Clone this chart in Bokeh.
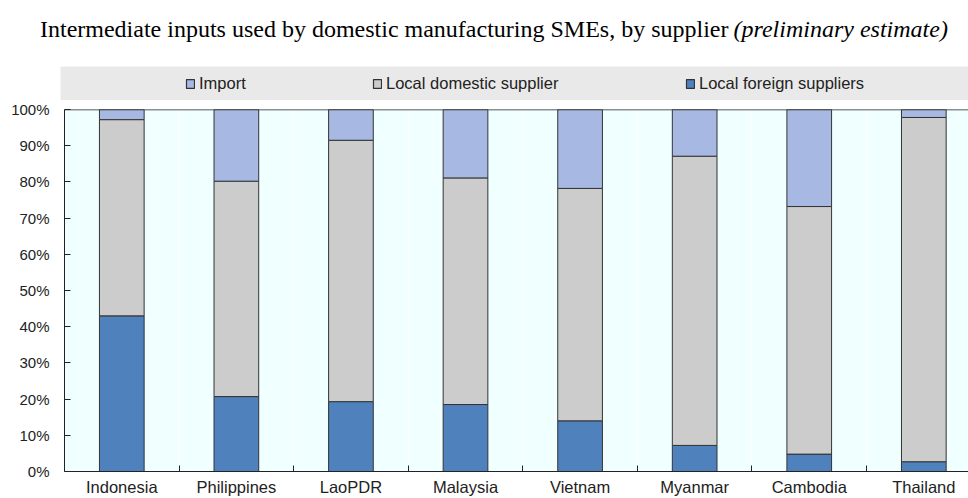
from bokeh.plotting import figure
from bokeh.layouts import column
from bokeh.models import (Range1d, FixedTicker, PrintfTickFormatter, Span, Label,
                          BoxAnnotation, Legend, LegendItem, ColumnDataSource)
from bokeh.embed import file_html
from bokeh.resources import INLINE

countries = ["Indonesia", "Philippines", "LaoPDR", "Malaysia", "Vietnam", "Myanmar", "Cambodia", "Thailand"]
local_foreign = [43.0, 20.7, 19.3, 18.5, 14.0, 7.2, 4.8, 2.7]
local_domestic = [54.2, 59.5, 72.2, 62.6, 64.2, 79.9, 68.4, 95.1]
imports = [2.8, 19.8, 8.5, 18.9, 21.8, 12.9, 26.8, 2.2]
y_ticks = [0, 10, 20, 30, 40, 50, 60, 70, 80, 90, 100]

series = ["Local foreign suppliers", "Local domestic supplier", "Import"]
colors = ["#4F81BD", "#CCCCCC", "#A7B9E3"]

FONT = "Liberation Sans"
TFONT = "Liberation Serif"
TXT = "#222222"

xs = list(range(len(countries)))
src = ColumnDataSource(dict(x=xs, **{
    "Local foreign suppliers": local_foreign,
    "Local domestic supplier": local_domestic,
    "Import": imports,
}))

# ---------- header: title + legend band (x = page px) ----------
h = figure(width=968, height=100, output_backend="svg", toolbar_location=None,
           x_range=Range1d(0, 968), y_range=Range1d(0, 100),
           min_border=0, x_axis_type=None, y_axis_type=None)
h.frame_align = False
h.outline_line_color = None
h.xgrid.grid_line_color = None
h.ygrid.grid_line_color = None
h.add_layout(BoxAnnotation(left=60, right=968, bottom=0, top=34,
                           fill_color="#E9E9E9", fill_alpha=1, line_color=None))
h.add_layout(Label(x=728, y=72, text="Intermediate inputs used by domestic manufacturing SMEs, by supplier",
                   text_align="right", text_baseline="middle", text_font=TFONT,
                   text_font_size="24px", text_color="#000000"))
h.add_layout(Label(x=733, y=72, text="(preliminary estimate)", text_font_style="italic",
                   text_align="left", text_baseline="middle", text_font=TFONT,
                   text_font_size="24px", text_color="#000000"))

dummy = ColumnDataSource(dict(x=[-1000], top=[0]))
leg_x = {"Import": 185, "Local domestic supplier": 372, "Local foreign suppliers": 685}
for name, c in zip(series, colors):
    r = h.vbar(x="x", top="top", width=1, source=dummy, fill_color=c, line_color="#333333",
               line_width=1.2)
    lg = Legend(items=[LegendItem(label=name, renderers=[r])], location=(leg_x[name], 7),
                orientation="horizontal", padding=0, margin=0, background_fill_alpha=0,
                border_line_color=None, glyph_width=10, glyph_height=11, label_standoff=4,
                label_height=20, label_text_font=FONT, label_text_font_size="16.5px",
                label_text_color=TXT)
    h.add_layout(lg, "center")

# ---------- main chart ----------
p = figure(width=968, height=398, output_backend="svg", toolbar_location=None,
           x_range=Range1d(-0.5, 7.39), y_range=Range1d(0, 100),
           min_border_left=64, min_border_right=0, min_border_top=9, min_border_bottom=26)
p.frame_align = False
p.background_fill_color = "#F0FFFF"
p.outline_line_color = None

p.vbar_stack(series, x="x", width=0.39, color=colors, line_color="#333333",
             line_width=1, source=src)

boundaries = [i + 0.5 for i in xs]
p.xaxis.ticker = FixedTicker(ticks=xs, minor_ticks=[-0.5] + boundaries)
p.xaxis.major_label_overrides = {i: c for i, c in enumerate(countries)}
p.xaxis.major_tick_line_color = None
p.xaxis.major_tick_in = 0
p.xaxis.major_tick_out = 0
p.xaxis.minor_tick_in = 6
p.xaxis.minor_tick_out = 0
p.xaxis.minor_tick_line_color = TXT
p.xaxis.axis_line_color = TXT
p.xaxis.major_label_text_font = FONT
p.xaxis.major_label_text_font_size = "16.5px"
p.xaxis.major_label_text_color = TXT
p.xaxis.major_label_standoff = 6

p.yaxis.ticker = FixedTicker(ticks=y_ticks)
p.yaxis.formatter = PrintfTickFormatter(format="%d%%")
p.yaxis.major_tick_in = 6
p.yaxis.major_tick_out = 0
p.yaxis.minor_tick_line_color = None
p.yaxis.major_tick_line_color = TXT
p.yaxis.axis_line_color = TXT
p.yaxis.major_label_text_font = FONT
p.yaxis.major_label_text_font_size = "15px"
p.yaxis.major_label_text_color = TXT
p.yaxis.major_label_standoff = 15

p.ygrid.grid_line_color = None
p.xgrid.ticker = FixedTicker(ticks=boundaries)
p.xgrid.grid_line_color = "#FFFFFF"

p.add_layout(Span(location=100, dimension="width", line_color=TXT, line_width=1.5))

layout = column(h, p, spacing=0)
open("out.html", "w").write(file_html(layout, INLINE))
